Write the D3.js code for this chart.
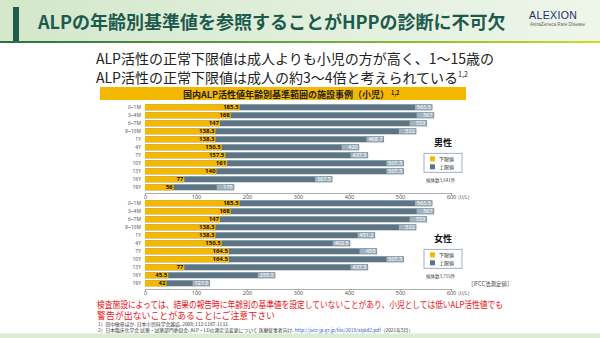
<!DOCTYPE html>
<html lang="ja">
<head>
<meta charset="utf-8">
<script src="https://cdn.jsdelivr.net/npm/d3@7"></script>
<style>
body { margin: 0; background: #fff; }
svg text { font-family: "Noto Sans CJK JP", "Noto Sans", sans-serif; }
.axis path, .axis line { stroke: #9a9a9a; stroke-width: 0.8; shape-rendering: crispEdges; }
.axis text { font-size: 5.6px; fill: #555; font-family: "Noto Sans", sans-serif; }
</style>
</head>
<body>
<script>
var ages = ["0~1M", "3~4M", "6~7M", "9~10M", "1Y", "4Y", "7Y", "10Y", "13Y", "16Y", "19Y"];
var maleLower = [185.5, 168, 147, 138.3, 138.3, 150.5, 157.5, 161, 140, 77, 56];
var maleUpper = [563.5, 567, 553, 532, 468.7, 420, 437.5, 507.5, 507.5, 367.5, 175];
var femaleLower = [185.5, 168, 147, 138.3, 138.3, 150.5, 164.5, 164.5, 77, 45.5, 42];
var femaleUpper = [563.5, 567, 553, 532, 451.2, 402.5, 455, 507.5, 437.5, 255.5, 127.5];
var xTicks = [0, 100, 200, 300, 400, 500, 600];

var w = 600, h = 338;
var yellow = "#f5b800", slate = "#5b7585";

var svg = d3.select("body").append("svg")
  .attr("width", w).attr("height", h);

var defs = svg.append("defs");
var hg = defs.append("linearGradient").attr("id", "hdr").attr("x1", 0).attr("x2", 1).attr("y1", 0).attr("y2", 0);
hg.append("stop").attr("offset", "0%").attr("stop-color", "#d3e7cb");
hg.append("stop").attr("offset", "100%").attr("stop-color", "#eef6ea");
var lg = defs.append("linearGradient").attr("id", "hline").attr("x1", 0).attr("x2", 1).attr("y1", 0).attr("y2", 0);
lg.append("stop").attr("offset", "0%").attr("stop-color", "#2e6e45");
lg.append("stop").attr("offset", "55%").attr("stop-color", "#6fae3c");
lg.append("stop").attr("offset", "100%").attr("stop-color", "#d2dc1e");

// header
svg.append("rect").attr("x", 0).attr("y", 0).attr("width", w).attr("height", 41).attr("fill", "url(#hdr)");
svg.append("rect").attr("x", 0).attr("y", 41).attr("width", w).attr("height", 2).attr("fill", "url(#hline)");
svg.append("rect").attr("x", 13).attr("y", 7).attr("width", 6).attr("height", 34).attr("fill", "#1f5e4c");
svg.append("text").attr("x", 38).attr("y", 28.5)
  .attr("font-size", 18).attr("font-weight", "bold").attr("fill", "#1c5a4e")
  .text("ALPの年齢別基準値を参照することがHPPの診断に不可欠");

// logo
svg.append("text").attr("x", 529).attr("y", 19).attr("font-size", 10.5).attr("fill", "#1d2d70")
  .attr("letter-spacing", 0.4)
  .style("font-family", "'Liberation Sans', sans-serif")
  .text("ALEXION");
svg.append("text").attr("x", 530).attr("y", 25.5).attr("font-size", 4.6).attr("fill", "#666")
  .style("font-family", "'Liberation Sans', sans-serif")
  .text("AstraZeneca Rare Disease");

// subtitle
svg.append("text").attr("x", 96).attr("y", 64).attr("font-size", 14).attr("fill", "#222")
  .text("ALP活性の正常下限値は成人よりも小児の方が高く、1～15歳の");
var sub2 = svg.append("text").attr("x", 96).attr("y", 83).attr("font-size", 14).attr("fill", "#222");
sub2.append("tspan").text("ALP活性の正常下限値は成人の約3～4倍と考えられている");
sub2.append("tspan").attr("font-size", 7).attr("dy", -6).text("1,2");

// chart title band
svg.append("rect").attr("x", 100).attr("y", 87).attr("width", 366).attr("height", 13).attr("fill", yellow);
var ct = svg.append("text").attr("x", 183).attr("y", 97.5).attr("font-size", 9).attr("font-weight", "bold").attr("fill", "#222");
ct.append("tspan").text("国内ALP活性値年齢別基準範囲の施設事例（小児）");
ct.append("tspan").attr("font-size", 5.5).attr("dy", -3).attr("dx", 2).text("1,2");

var x = d3.scaleLinear().domain([0, 600]).range([145, 451]);

function panel(top, lower, upper, label, count) {
  var y = d3.scaleBand().domain(ages).range([top, top + 88]).paddingInner(0.25).paddingOuter(0.125);
  var g = svg.append("g");
  var rows = ages.map(function (a, i) { return { age: a, lo: lower[i], hi: upper[i] }; });

  g.selectAll(".up").data(rows).enter().append("rect")
    .attr("x", x(0)).attr("y", function (d) { return y(d.age); })
    .attr("width", function (d) { return x(d.hi) - x(0); })
    .attr("height", y.bandwidth()).attr("fill", slate);
  g.selectAll(".lo").data(rows).enter().append("rect")
    .attr("x", x(0)).attr("y", function (d) { return y(d.age); })
    .attr("width", function (d) { return x(d.lo) - x(0); })
    .attr("height", y.bandwidth()).attr("fill", yellow);

  // upper labels
  g.selectAll(".ub").data(rows).enter().append("rect")
    .attr("x", function (d) { return x(d.hi) - 17.5; })
    .attr("y", function (d) { return y(d.age) + 0.5; })
    .attr("width", 17).attr("height", y.bandwidth() - 1)
    .attr("fill", "#9fb2bf");
  g.selectAll(".ut").data(rows).enter().append("text")
    .attr("x", function (d) { return x(d.hi) - 1.5; })
    .attr("y", function (d) { return y(d.age) + y.bandwidth() / 2 + 2; })
    .attr("text-anchor", "end").attr("font-size", 5.5).attr("fill", "#fff")
    .style("font-family", "'Noto Sans', sans-serif")
    .text(function (d) { return d.hi; });
  g.selectAll(".lt").data(rows).enter().append("text")
    .attr("x", function (d) { return x(d.lo) - 1; })
    .attr("y", function (d) { return y(d.age) + y.bandwidth() / 2 + 2; })
    .attr("text-anchor", "end").attr("font-size", 6).attr("font-weight", "bold").attr("fill", "#111")
    .style("font-family", "'Noto Sans', sans-serif")
    .text(function (d) { return d.lo; });

  g.selectAll(".yl").data(rows).enter().append("text")
    .attr("x", 141).attr("y", function (d) { return y(d.age) + y.bandwidth() / 2 + 1.8; })
    .attr("text-anchor", "end").attr("font-size", 5).attr("fill", "#555")
    .style("font-family", "'Noto Sans', sans-serif")
    .text(function (d) { return d.age; });

  var ay = top + 89.3;
  svg.append("g").attr("class", "axis").attr("transform", "translate(0," + ay + ")")
    .call(d3.axisBottom(x).tickValues(xTicks).tickSize(2).tickSizeOuter(0).tickPadding(0.3));
  svg.append("text").attr("x", 458).attr("y", ay + 6.3).attr("font-size", 5).attr("fill", "#555").text("(U/L)");

  // legend
  var lt = top + 43;
  svg.append("text").attr("x", 443).attr("y", lt).attr("text-anchor", "middle")
    .attr("font-size", 9).attr("font-weight", "bold").attr("fill", "#111").text(label);
  svg.append("rect").attr("x", 424).attr("y", lt + 7).attr("width", 38).attr("height", 19)
    .attr("fill", "#fff").attr("stroke", "#8c9bbd").attr("stroke-width", 0.8);
  [["下限値", yellow], ["上限値", slate]].forEach(function (it, i) {
    svg.append("rect").attr("x", 430).attr("y", lt + 10 + i * 8).attr("width", 5).attr("height", 5).attr("fill", it[1]);
    svg.append("text").attr("x", 439).attr("y", lt + 14.5 + i * 8).attr("font-size", 5).attr("fill", "#333").text(it[0]);
  });
  svg.append("text").attr("x", 426).attr("y", lt + 35.5).attr("font-size", 4.5).attr("fill", "#444").text(count);
}

panel(103.3, maleLower, maleUpper, "男性", "検体数3,641件");
panel(199.3, femaleLower, femaleUpper, "女性", "検体数3,755件");

svg.append("text").attr("x", 468).attr("y", 286).attr("font-size", 5.5).attr("fill", "#444").text("［IFCC法測定値］");

// warning
svg.append("text").attr("x", 97).attr("y", 307.5).attr("font-size", 9.5).attr("fill", "#e8141c")
  .attr("textLength", 406).attr("lengthAdjust", "spacingAndGlyphs")
  .text("検査施設によっては、結果の報告時に年齢別の基準値を設定していないことがあり、小児としては低いALP活性値でも");
svg.append("text").attr("x", 97).attr("y", 319).attr("font-size", 9.5).attr("fill", "#e8141c")
  .attr("textLength", 178).attr("lengthAdjust", "spacingAndGlyphs")
  .text("警告が出ないことがあることにご注意下さい");

// footnotes
svg.append("text").attr("x", 98).attr("y", 326.4).attr("font-size", 4.8).attr("fill", "#333")
  .text("1）田中敏章ほか. 日本小児科学会雑誌. 2008; 112:1187-1132.");
var fn2 = svg.append("text").attr("x", 98).attr("y", 331.6).attr("font-size", 4.8).attr("fill", "#333");
fn2.append("tspan").text("2）日本臨床化学会 試薬・試薬部門委員会. ALP・LDの測定法変更について 医療従事者向け. ");
fn2.append("tspan").attr("fill", "#2a5bd7").text("http://jscc-jp.gr.jp/file/2019/alpld2.pdf");
fn2.append("tspan").text("（2021年5月）");

svg.append("rect").attr("x", 0).attr("y", 333.5).attr("width", w).attr("height", 4.5).attr("fill", "#dcebd3");
</script>
</body>
</html>
